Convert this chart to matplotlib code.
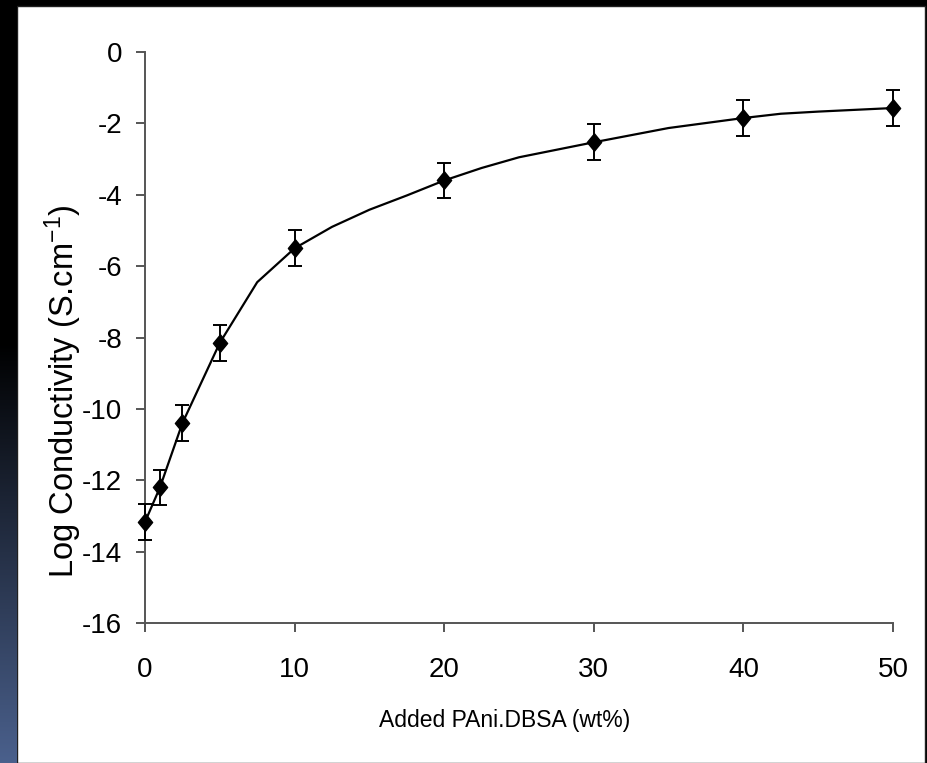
import numpy as np
import matplotlib
matplotlib.use("Agg")
import matplotlib.pyplot as plt
from matplotlib.patches import Rectangle
from matplotlib.path import Path

# Measured conductivity vs. PAni.DBSA loading
pani_wt = [0, 1, 2.5, 5, 10, 20, 30, 40, 50]
log_sigma = [-13.17, -12.2, -10.4, -8.15, -5.5, -3.6, -2.53, -1.85, -1.57]
log_sigma_err = [0.5, 0.5, 0.5, 0.5, 0.5, 0.5, 0.5, 0.5, 0.5]

# Fitted trend curve
fit_wt = [0, 1, 2.5, 5, 7.5, 10, 12.5, 15, 17.5, 20, 22.5, 25, 30, 35, 40, 42.5, 45, 50]
fit_log_sigma = [-13.17, -12.2, -10.4, -8.15, -6.45, -5.5, -4.9, -4.42, -4.02, -3.6,
                 -3.25, -2.95, -2.53, -2.13, -1.85, -1.73, -1.67, -1.57]

x_ticks = [0, 10, 20, 30, 40, 50]
y_ticks = [0, -2, -4, -6, -8, -10, -12, -14, -16]

family = "Liberation Sans"
plt.rcParams["font.family"] = [family, "DejaVu Sans"]
plt.rcParams["mathtext.fontset"] = "custom"
plt.rcParams["mathtext.rm"] = family
plt.rcParams["mathtext.default"] = "regular"

W, H = 927, 763
fig = plt.figure(figsize=(W / 100, H / 100), dpi=100, facecolor="black")

# Blue gradient strip on the left border
grad_ax = fig.add_axes([0, 0, 17 / W, 1])
grad_ax.set_axis_off()
t = np.linspace(0, 1, 256)[:, None]
top = np.array([0, 0, 0])
bottom = np.array([74, 96, 140]) / 255
ramp = np.clip((t - 0.45) / 0.55, 0, 1)
img = (1 - ramp)[..., None] * top + ramp[..., None] * bottom
img = np.repeat(img, 2, axis=1)
grad_ax.imshow(img, aspect="auto", extent=[0, 1, 0, 1])

# White panel behind the plot
fig.patches.append(Rectangle((17 / W, 0), (925 - 17) / W, (763 - 6) / H,
                             transform=fig.transFigure, facecolor="white",
                             edgecolor="#202020", linewidth=1, zorder=-10))

ax = fig.add_axes([145 / W, 1 - 623 / H, (893 - 145) / W, (623 - 52) / H])
ax.set_facecolor("none")
ax.set_zorder(5)

ax.plot(fit_wt, fit_log_sigma, color="black", linewidth=1.6, zorder=2, clip_on=False)

diamond = Path([(0, 1), (0.82, 0), (0, -1), (-0.82, 0), (0, 1)],
               [Path.MOVETO, Path.LINETO, Path.LINETO, Path.LINETO, Path.CLOSEPOLY])
ax.errorbar(pani_wt, log_sigma, yerr=log_sigma_err, fmt="none", ecolor="black",
            elinewidth=1.4, capsize=4.8, capthick=1.4, zorder=3, clip_on=False)
ax.plot(pani_wt, log_sigma, linestyle="none", marker=diamond, markersize=12.5,
        color="black", zorder=4, clip_on=False)

ax.set_xlim(0, 50)
ax.set_ylim(-16, 0)
ax.set_xticks(x_ticks)
ax.set_yticks(y_ticks)
ax.set_yticklabels([str(v) for v in y_ticks])

for side in ("top", "right"):
    ax.spines[side].set_visible(False)
for side in ("left", "bottom"):
    ax.spines[side].set_color("#555555")
    ax.spines[side].set_linewidth(1.4)

ax.tick_params(axis="both", direction="out", length=6.5, width=1.4, color="#555555",
               labelsize=20, labelcolor="black")
ax.tick_params(axis="x", pad=18)
ax.tick_params(axis="y", pad=10)

fig.text(505 / W, 1 - 721 / H, "Added PAni.DBSA (wt%)", ha="center", va="center",
         fontsize=16.5, color="black")
fig.text(63 / W, 1 - 391 / H, "Log Conductivity (S.cm$^{-1}$)", ha="center",
         va="center", rotation=90, fontsize=23.5, color="black")

fig.savefig("out.png", dpi=100, facecolor="black")
